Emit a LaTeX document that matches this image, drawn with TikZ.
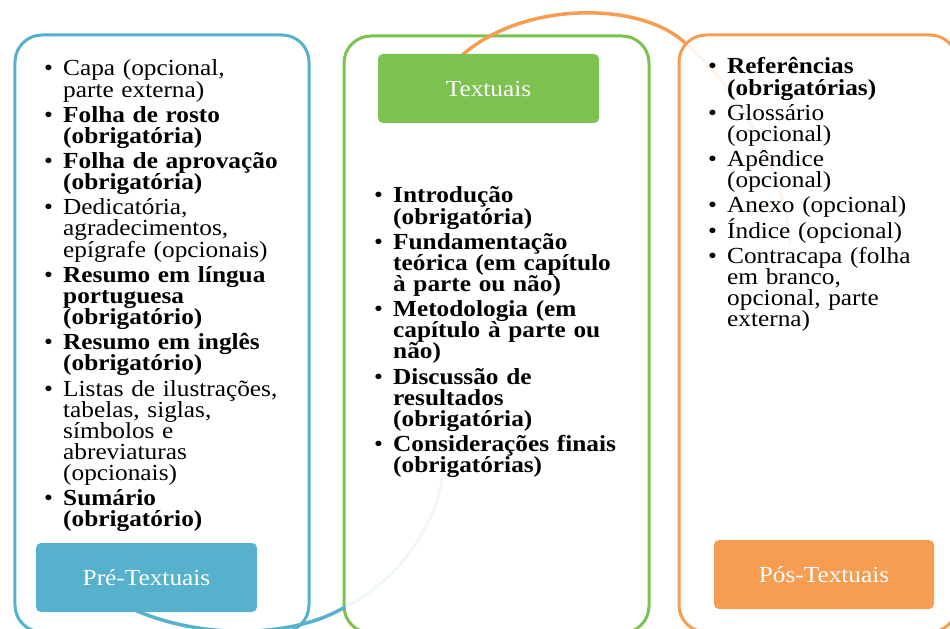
\documentclass[tikz,border=0pt]{standalone}
\usepackage{fontspec}
\setmainfont{Liberation Serif}[FakeStretch=1.1]
\definecolor{cblue}{RGB}{86,178,204}
\definecolor{cgreen}{RGB}{125,193,80}
\definecolor{corange}{RGB}{247,157,81}
\newcommand{\nl}{\hfil\break}
\newcommand{\bitem}[1]{\hangindent=19bp\hangafter=1\noindent\makebox[19bp][l]{\textbullet}#1\par}
\newcommand{\colsetup}{\setlength{\parskip}{4.1bp}\setlength{\parindent}{0pt}\lineskiplimit=-1000bp\relax}
\begin{document}
\begin{tikzpicture}[x=1bp,y=-1bp,
  outerbox/.style={line width=3bp, rounded corners=27bp, minimum height=597bp, inner sep=0pt},
  lbl/.style={rounded corners=5bp, text=white, inner sep=0pt, font=\fontsize{23bp}{21.1bp}\selectfont},
  colbox/.style={inner sep=0pt, anchor=base west, align=left, text width=#1, font=\fontsize{23bp}{21.1bp}\selectfont},
  faint/.style={line width=3bp},
  arc/.style={line width=3.5bp}
]
\useasboundingbox (0,0) rectangle (950,629);
\clip (0,0) rectangle (950,629);
% faint arc continuations
\draw[faint, cblue!10] (345,607) .. controls (400,580) and (440,520) .. (443,470);
\draw[faint, corange!12] (685,43) .. controls (740,90) and (785,170) .. (790,245);
% frames
\node[outerbox, draw=cblue, minimum width=294bp] (preframe) at (162,333.5) {};
\node[outerbox, draw=cgreen, minimum width=305bp] (txtframe) at (496.5,334.5) {};
\node[outerbox, draw=corange, minimum width=278bp] (posframe) at (818,333.5) {};
% bright arcs
\draw[arc, cblue] (120,603) .. controls (190,640) and (290,640) .. (345,607);
\draw[arc, corange] (455,62) .. controls (515,0) and (640,0) .. (685,43);
% labels
\node[lbl, fill=cblue, minimum width=221bp, minimum height=69bp] (prelbl) at (146.5,577.5) {Pré-Textuais};
\node[lbl, fill=cgreen, minimum width=221bp, minimum height=69bp] (txtlbl) at (488.5,88.5) {Textuais};
\node[lbl, fill=corange, minimum width=220bp, minimum height=69bp] (poslbl) at (824,574.5) {Pós-Textuais};
% columns
\node[colbox=260bp] (precol) at (44,76) {\colsetup
\bitem{Capa (opcional,\nl parte externa)}
\bitem{\textbf{Folha de rosto\nl (obrigatória)}}
\bitem{\textbf{Folha de aprovação\nl (obrigatória)}}
\bitem{Dedicatória,\nl agradecimentos,\nl epígrafe (opcionais)}
\bitem{\textbf{Resumo em língua\nl portuguesa\nl (obrigatório)}}
\bitem{\textbf{Resumo em inglês\nl (obrigatório)}}
\bitem{Listas de ilustrações,\nl tabelas, siglas,\nl símbolos e\nl abreviaturas\nl (opcionais)}
\bitem{\textbf{Sumário\nl (obrigatório)}}};
\node[colbox=262bp] (txtcol) at (374,203) {\colsetup
\bitem{\textbf{Introdução\nl (obrigatória)}}
\bitem{\textbf{Fundamentação\nl teórica (em capítulo\nl à parte ou não)}}
\bitem{\textbf{Metodologia (em\nl capítulo à parte ou\nl não)}}
\bitem{\textbf{Discussão de\nl resultados\nl (obrigatória)}}
\bitem{\textbf{Considerações finais\nl (obrigatórias)}}};
\node[colbox=230bp] (poscol) at (708,74) {\colsetup
\bitem{\textbf{Referências\nl (obrigatórias)}}
\bitem{Glossário\nl (opcional)}
\bitem{Apêndice\nl (opcional)}
\bitem{Anexo (opcional)}
\bitem{Índice (opcional)}
\bitem{Contracapa (folha\nl em branco,\nl opcional, parte\nl externa)}};
\end{tikzpicture}
\end{document}
